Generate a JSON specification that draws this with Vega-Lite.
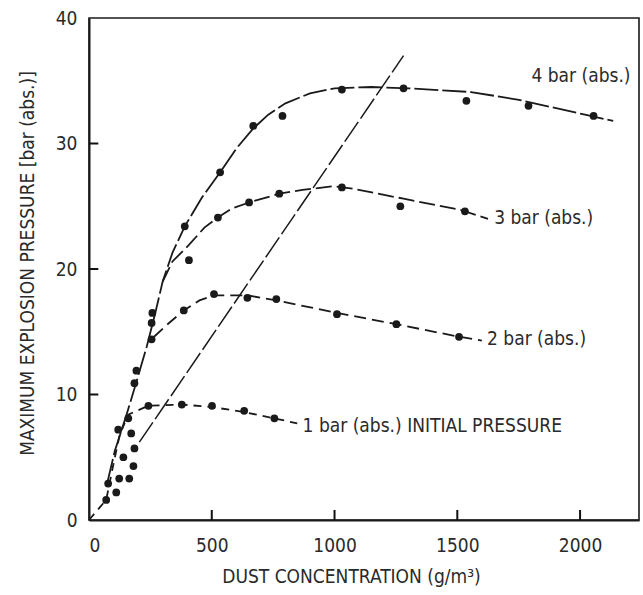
{
  "$schema": "https://vega.github.io/schema/vega-lite/v6.json",
  "autosize": {"type": "none"},
  "width": 550,
  "height": 502,
  "padding": {"left": 89, "top": 18, "right": 4, "bottom": 75},
  "background": "white",
  "config": {
    "view": {"stroke": "#1a1a1a", "strokeWidth": 1.6},
    "axis": {
      "labelFont": "DejaVu Sans Condensed",
      "titleFont": "DejaVu Sans Condensed",
      "labelFontSize": 19,
      "titleFontSize": 19,
      "titleFontWeight": "normal",
      "labelColor": "#2a2a2a",
      "titleColor": "#2a2a2a",
      "domainColor": "#1a1a1a",
      "domainWidth": 2,
      "ticks": false,
      "grid": false
    }
  },
  "datasets": {
    "curves": [
      {"s": "4 bar", "x": 75, "y": 3}, {"s": "4 bar", "x": 105, "y": 5.5}, {"s": "4 bar", "x": 150, "y": 8.2}, {"s": "4 bar", "x": 190, "y": 10.8}, {"s": "4 bar", "x": 235, "y": 13.8}, {"s": "4 bar", "x": 270, "y": 16.5}, {"s": "4 bar", "x": 300, "y": 19}, {"s": "4 bar", "x": 340, "y": 21.3}, {"s": "4 bar", "x": 390, "y": 23.4}, {"s": "4 bar", "x": 460, "y": 25.7}, {"s": "4 bar", "x": 534, "y": 27.7}, {"s": "4 bar", "x": 600, "y": 29.6}, {"s": "4 bar", "x": 669, "y": 31.2}, {"s": "4 bar", "x": 730, "y": 32.3}, {"s": "4 bar", "x": 800, "y": 33.2}, {"s": "4 bar", "x": 900, "y": 34}, {"s": "4 bar", "x": 1000, "y": 34.4}, {"s": "4 bar", "x": 1150, "y": 34.5}, {"s": "4 bar", "x": 1300, "y": 34.4}, {"s": "4 bar", "x": 1556, "y": 34.1}, {"s": "4 bar", "x": 1745, "y": 33.5}, {"s": "4 bar", "x": 2020, "y": 32.3}, {"s": "4 bar", "x": 2135, "y": 31.8},
      {"s": "3 bar", "x": 300, "y": 19}, {"s": "3 bar", "x": 340, "y": 20.6}, {"s": "3 bar", "x": 406, "y": 21.9}, {"s": "3 bar", "x": 470, "y": 23.3}, {"s": "3 bar", "x": 525, "y": 24.1}, {"s": "3 bar", "x": 580, "y": 24.8}, {"s": "3 bar", "x": 652, "y": 25.3}, {"s": "3 bar", "x": 775, "y": 26.0}, {"s": "3 bar", "x": 870, "y": 26.3}, {"s": "3 bar", "x": 993, "y": 26.6}, {"s": "3 bar", "x": 1075, "y": 26.4}, {"s": "3 bar", "x": 1281, "y": 25.6}, {"s": "3 bar", "x": 1515, "y": 24.7}, {"s": "3 bar", "x": 1625, "y": 24.0},
      {"s": "2 bar", "x": 265, "y": 14.6}, {"s": "2 bar", "x": 320, "y": 15.6}, {"s": "2 bar", "x": 386, "y": 16.7}, {"s": "2 bar", "x": 450, "y": 17.5}, {"s": "2 bar", "x": 509, "y": 17.9}, {"s": "2 bar", "x": 645, "y": 17.9}, {"s": "2 bar", "x": 763, "y": 17.5}, {"s": "2 bar", "x": 1010, "y": 16.5}, {"s": "2 bar", "x": 1252, "y": 15.6}, {"s": "2 bar", "x": 1507, "y": 14.6}, {"s": "2 bar", "x": 1600, "y": 14.3},
      {"s": "1 bar", "x": 0, "y": 0}, {"s": "1 bar", "x": 70, "y": 1.6}, {"s": "1 bar", "x": 100, "y": 4.5}, {"s": "1 bar", "x": 125, "y": 6.8}, {"s": "1 bar", "x": 160, "y": 8.4}, {"s": "1 bar", "x": 242, "y": 9.1}, {"s": "1 bar", "x": 378, "y": 9.2}, {"s": "1 bar", "x": 501, "y": 9.0}, {"s": "1 bar", "x": 632, "y": 8.6}, {"s": "1 bar", "x": 755, "y": 8.1}, {"s": "1 bar", "x": 848, "y": 7.7}
    ],
    "diag": [
      {"x": 205, "y": 6.2}, {"x": 1281, "y": 37}
    ],
    "points": [
      {"s": "4 bar", "x": 390, "y": 23.4}, {"s": "4 bar", "x": 534, "y": 27.7}, {"s": "4 bar", "x": 669, "y": 31.4}, {"s": "4 bar", "x": 788, "y": 32.2}, {"s": "4 bar", "x": 1030, "y": 34.3}, {"s": "4 bar", "x": 1281, "y": 34.4}, {"s": "4 bar", "x": 1537, "y": 33.4}, {"s": "4 bar", "x": 1790, "y": 33.0}, {"s": "4 bar", "x": 2055, "y": 32.2},
      {"s": "3 bar", "x": 407, "y": 20.7}, {"s": "3 bar", "x": 525, "y": 24.1}, {"s": "3 bar", "x": 652, "y": 25.3}, {"s": "3 bar", "x": 775, "y": 26.0}, {"s": "3 bar", "x": 1030, "y": 26.5}, {"s": "3 bar", "x": 1268, "y": 25.0}, {"s": "3 bar", "x": 1531, "y": 24.6},
      {"s": "2 bar", "x": 386, "y": 16.7}, {"s": "2 bar", "x": 509, "y": 18.0}, {"s": "2 bar", "x": 645, "y": 17.7}, {"s": "2 bar", "x": 763, "y": 17.6}, {"s": "2 bar", "x": 1010, "y": 16.4}, {"s": "2 bar", "x": 1252, "y": 15.6}, {"s": "2 bar", "x": 1507, "y": 14.6},
      {"s": "1 bar", "x": 242, "y": 9.1}, {"s": "1 bar", "x": 378, "y": 9.2}, {"s": "1 bar", "x": 501, "y": 9.1}, {"s": "1 bar", "x": 632, "y": 8.7}, {"s": "1 bar", "x": 755, "y": 8.1},
      {"s": "low", "x": 70, "y": 1.6}, {"s": "low", "x": 78, "y": 2.9}, {"s": "low", "x": 111, "y": 2.2}, {"s": "low", "x": 123, "y": 3.3}, {"s": "low", "x": 164, "y": 3.3}, {"s": "low", "x": 140, "y": 5.0}, {"s": "low", "x": 181, "y": 4.3}, {"s": "low", "x": 185, "y": 5.7}, {"s": "low", "x": 119, "y": 7.2}, {"s": "low", "x": 172, "y": 6.9}, {"s": "low", "x": 160, "y": 8.1}, {"s": "low", "x": 185, "y": 10.9}, {"s": "low", "x": 193, "y": 11.9}, {"s": "low", "x": 255, "y": 14.4}, {"s": "low", "x": 255, "y": 15.7}, {"s": "low", "x": 258, "y": 16.5}
    ],
    "labels": [
      {"x": 1802, "y": 35.4, "t": "4 bar (abs.)"},
      {"x": 1650, "y": 24.1, "t": "3 bar (abs.)"},
      {"x": 1621, "y": 14.4, "t": "2 bar (abs.)"},
      {"x": 870, "y": 7.5, "t": "1 bar (abs.) INITIAL PRESSURE"}
    ]
  },
  "layer": [
    {
      "data": {"name": "curves"},
      "mark": {"type": "line", "color": "#1a1a1a", "strokeWidth": 1.8},
      "encoding": {
        "x": {"field": "x", "type": "quantitative", "scale": {"domain": [0, 2240], "nice": false},
          "axis": {"values": [0, 500, 1000, 1500, 2000], "format": "d", "labelPadding": 16, "title": "DUST CONCENTRATION (g/m³)", "titlePadding": 12, "titleX": 262}},
        "y": {"field": "y", "type": "quantitative", "scale": {"domain": [0, 40], "nice": false},
          "axis": {"values": [0, 10, 20, 30, 40], "labelPadding": 12, "title": "MAXIMUM EXPLOSION PRESSURE  [bar (abs.)]", "titlePadding": 18, "titleY": 245}},
        "detail": {"field": "s", "type": "nominal"},
        "strokeDash": {"field": "s", "type": "nominal", "legend": null,
          "scale": {"domain": ["1 bar", "2 bar", "3 bar", "4 bar"], "range": [[8, 6], [12, 6], [16, 5], [24, 4]]}}
      }
    },
    {
      "data": {"name": "diag"},
      "mark": {"type": "line", "color": "#1a1a1a", "strokeWidth": 1.5, "strokeDash": [24, 4]},
      "encoding": {
        "x": {"field": "x", "type": "quantitative"},
        "y": {"field": "y", "type": "quantitative"}
      }
    },
    {
      "data": {"name": "points"},
      "mark": {"type": "point", "shape": "circle", "filled": true, "color": "#1a1a1a", "opacity": 1, "size": 60},
      "encoding": {
        "x": {"field": "x", "type": "quantitative"},
        "y": {"field": "y", "type": "quantitative"}
      }
    },
    {
      "data": {"name": "labels"},
      "mark": {"type": "text", "align": "left", "baseline": "middle", "font": "DejaVu Sans Condensed", "fontSize": 19, "color": "#2a2a2a"},
      "encoding": {
        "x": {"field": "x", "type": "quantitative"},
        "y": {"field": "y", "type": "quantitative"},
        "text": {"field": "t", "type": "nominal"}
      }
    },
    {
      "data": {"values": [
        {"v": 500, "lo": 0, "hi": 0.8},
        {"v": 1000, "lo": 0, "hi": 0.8},
        {"v": 1500, "lo": 0, "hi": 0.8},
        {"v": 2000, "lo": 0, "hi": 0.8}
      ]},
      "mark": {"type": "rule", "stroke": "#111111", "strokeWidth": 2},
      "encoding": {
        "x": {"field": "v", "type": "quantitative"},
        "y": {"field": "lo", "type": "quantitative"},
        "y2": {"field": "hi"}
      }
    },
    {
      "data": {"values": [
        {"v": 10, "lo": 0, "hi": 38},
        {"v": 20, "lo": 0, "hi": 38},
        {"v": 30, "lo": 0, "hi": 38}
      ]},
      "mark": {"type": "rule", "stroke": "#111111", "strokeWidth": 2},
      "encoding": {
        "y": {"field": "v", "type": "quantitative"},
        "x": {"field": "lo", "type": "quantitative"},
        "x2": {"field": "hi"}
      }
    }
  ]
}
